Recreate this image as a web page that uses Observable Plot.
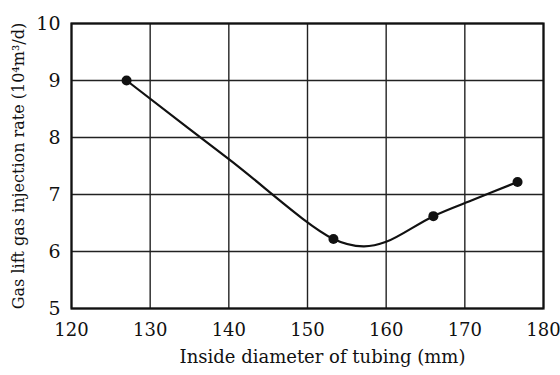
<!DOCTYPE html>
<html>
<head>
<meta charset="utf-8">
<script src="https://cdn.jsdelivr.net/npm/d3@7"></script>
<script src="https://cdn.jsdelivr.net/npm/@observablehq/plot@0.6"></script>
<style>
  html, body { margin: 0; padding: 0; background: #fff; }
</style>
</head>
<body>
<div id="chart"></div>
<script>
// Measured points
const diameter = [127, 153.3, 166, 176.7];
const rate = [9.0, 6.22, 6.62, 7.22];

// Fitted smooth curve
const curveX = [127, 140, 153.3, 157.1, 160, 166, 171.3, 176.7];
const curveY = [9.0, 7.62, 6.22, 6.09, 6.17, 6.62, 6.92, 7.22];

const xTicks = [120, 130, 140, 150, 160, 170, 180];
const yTicks = [5, 6, 7, 8, 9, 10];

const xLabel = "Inside diameter of tubing (mm)";
const yLabel = "Gas lift gas injection rate (10\u2074m\u00B3/d)";

const points = diameter.map((d, i) => ({x: d, y: rate[i]}));
const curve = curveX.map((d, i) => ({x: d, y: curveY[i]}));

const chart = Plot.plot({
  width: 560,
  height: 375,
  marginLeft: 71,
  marginRight: 17,
  marginTop: 23,
  marginBottom: 67,
  style: {fontFamily: "DejaVu Serif", fontSize: "18px", background: "#fff", color: "#111"},
  x: {domain: [120, 180], ticks: xTicks, label: null},
  y: {domain: [5, 10], ticks: yTicks, label: null},
  marks: [
    Plot.gridX(xTicks, {stroke: "#222", strokeOpacity: 1, strokeWidth: 1.4}),
    Plot.gridY(yTicks, {stroke: "#222", strokeOpacity: 1, strokeWidth: 1.4}),
    Plot.frame({stroke: "#111", strokeWidth: 2.2}),
    Plot.axisX(xTicks, {tickSize: 0, tickPadding: 15, label: null, fontSize: 18, tickFormat: d => String(d)}),
    Plot.axisY(yTicks, {tickSize: 0, tickPadding: 11, label: null, fontSize: 19, tickFormat: d => String(d)}),
    Plot.line(curve, {x: "x", y: "y", curve: "catmull-rom", stroke: "#111", strokeWidth: 2.2}),
    Plot.dot(points, {x: "x", y: "y", r: 5, fill: "#111", stroke: "none"}),
    Plot.text([xLabel], {frameAnchor: "bottom", dx: 15, dy: 54, fontSize: 18, fill: "#111", textAnchor: "middle"}),
    Plot.text([yLabel], {frameAnchor: "left", dx: -53, rotate: -90, fontSize: 16, fill: "#111", textAnchor: "middle"})
  ]
});
document.getElementById("chart").appendChild(chart);
</script>
</body>
</html>
